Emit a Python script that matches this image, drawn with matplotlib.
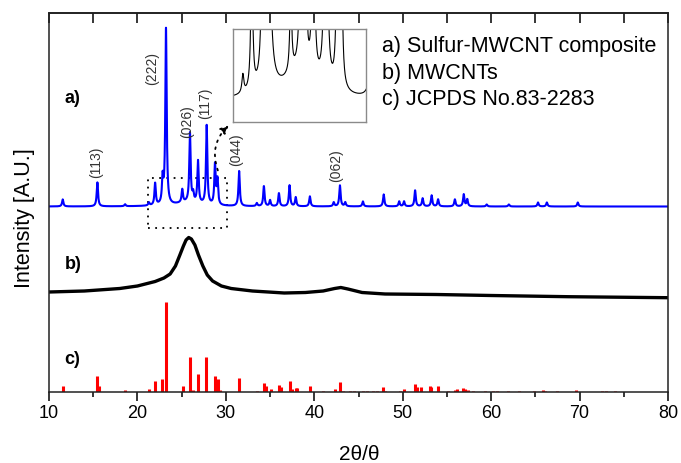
import matplotlib
matplotlib.use("Agg")
import matplotlib.pyplot as plt
import numpy as np
from matplotlib.patches import Rectangle
from matplotlib.ticker import MultipleLocator

plt.rcParams['font.family'] = ['Liberation Sans', 'DejaVu Sans']

# a) Sulfur-MWCNT composite: peak positions (2theta) and heights above baseline (A.U.)
blue_base = 185.5
blue_pos = [11.55, 15.47, 18.6, 21.3, 22.0, 22.85, 23.23, 25.07, 25.94, 26.3,
            26.85, 27.83, 28.77, 29.05, 31.5, 33.5, 34.3, 35.0, 36.0, 37.2,
            37.9, 39.5, 42.2, 42.9, 43.5, 45.5, 47.85, 49.6, 50.15, 51.4,
            52.25, 53.27, 54.0, 55.9, 56.9, 57.3, 59.5, 62.0, 65.3, 66.3, 69.8]
blue_height = [7, 24, 2, 3, 22, 25, 176, 13, 69, 8,
               42, 79, 40, 25, 35, 3, 20, 6, 13, 21,
               9, 10, 4, 21, 4, 5, 12, 5, 5, 16,
               8, 11, 7, 7, 12, 7, 2, 2, 4, 4, 4]
# broad carbon hump under the composite pattern
hump_pos = [25.8]
hump_height = [4]

# b) MWCNTs: trace
black_x = [10, 14, 18, 20, 22, 23, 23.7, 24.3, 24.8, 25.2, 25.5, 25.8, 26.1,
           26.5, 26.9, 27.4, 27.9, 28.5, 29.5, 30.6, 33, 36.6, 39, 41, 42.3,
           43.0, 43.8, 45.4, 48, 53.8, 60, 68.7, 80]
black_y = [100, 101, 103.5, 106, 110.5, 114, 118, 126, 137, 146, 152, 154.5, 153,
           147, 137, 126, 117, 111, 106, 103.5, 101, 99, 99.5, 101, 103.5,
           104.5, 103, 99.5, 98, 97.5, 96.5, 95.3, 94.3]

# c) JCPDS No.83-2283 reference lines
red_pos = [11.55, 15.45, 15.7, 18.6, 21.3, 22.0, 22.8, 23.2, 25.1, 25.9,
           26.3, 26.85, 27.8, 28.8, 29.07, 29.3, 31.5, 33.5, 34.3, 34.5,
           35.07, 36.0, 36.2, 37.2, 37.5, 37.9, 38.1, 39.5, 41.0, 42.3,
           42.9, 43.2, 44.0, 44.5, 45.5, 46.0, 46.6, 47.1, 47.8, 48.0,
           49.7, 50.15, 51.35, 51.6, 52.1, 53.1, 53.25, 54.0, 55.1, 55.9,
           56.1, 56.85, 57.1, 57.4, 57.9, 59.3, 60.2, 60.7, 61.9, 63.1,
           64.8, 65.85, 66.1, 67.4, 69.6, 72.5, 73.0, 74.0]
red_height = [6, 16, 6, 2, 3, 11, 13, 90, 6, 35,
              2, 18, 35, 16, 13, 2, 14, 1, 9, 6,
              3, 7, 5, 11, 3, 4, 4, 6, 1, 3,
              10, 1, 1, 1, 1, 1.5, 1.5, 1, 5, 1.5,
              1, 3, 8.5, 5.5, 5.5, 6, 5, 6, 1, 2.5,
              3, 4, 3.5, 2.5, 1, 1, 1, 1, 1, 1,
              1.5, 2, 1, 1, 2, 0.7, 0.7, 0.7]

hkl_labels = ['(113)', '(222)', '(026)', '(117)', '(044)', '(062)']
hkl_x = [15.31, 21.65, 25.66, 27.70, 31.15, 42.51]
hkl_y = [229.5, 323.5, 270, 288.5, 242, 226]

legend_lines = ['a) Sulfur-MWCNT composite', 'b) MWCNTs', 'c) JCPDS No.83-2283']

# build composite pattern from the peak list
x = np.linspace(10, 80, 7001)
hw = 0.09
blue = np.full_like(x, blue_base)
for p, h in zip(blue_pos, blue_height):
    blue += h / (1 + ((x - p) / hw) ** 2)
for p, h in zip(hump_pos, hump_height):
    blue += h / (1 + ((x - p) / 1.6) ** 2)

fig = plt.figure(figsize=(6.81, 4.63), dpi=100)
ax = fig.add_axes([49 / 681, 1 - 392 / 463, 619 / 681, 379 / 463])

ax.plot(x, blue, color='#0000ff', lw=1.5)
ax.plot(black_x, black_y, color='black', lw=2.4)
ax.vlines(red_pos, 0, red_height, color='#ff0000', lw=2.2)

ax.set_xlim(10, 80)
ax.set_ylim(0, 379)
ax.set_yticks([])
ax.xaxis.set_major_locator(MultipleLocator(10))
ax.xaxis.set_minor_locator(MultipleLocator(5))
ax.tick_params(axis='x', which='major', direction='out', length=6.5, width=1.1,
               labelsize=13, pad=3)
ax.tick_params(axis='x', which='minor', direction='out', length=3.5, width=1.1)
for s in ax.spines.values():
    s.set_linewidth(1.1)
    s.set_color('#222222')

top = ax.secondary_xaxis('top')
top.xaxis.set_major_locator(MultipleLocator(10))
top.xaxis.set_minor_locator(MultipleLocator(5))
top.tick_params(which='both', direction='in', length=7, width=1.1, labeltop=False)
top.spines['top'].set_linewidth(1.1)

ax.text(0.5008, -0.166, '2θ/θ', transform=ax.transAxes, ha='center', va='center',
        fontsize=15)
ax.text(-0.04, 0.46, 'Intensity [A.U.]', transform=ax.transAxes, rotation=90,
        ha='center', va='center', fontsize=15.5)

for lab, y in zip(['a)', 'b)', 'c)'], [293.5, 127.5, 32.5]):
    ax.text(11.75, y, lab, fontsize=13, fontweight='bold', ha='left', va='center')

for lab, xx, yy in zip(hkl_labels, hkl_x, hkl_y):
    ax.text(xx, yy, lab, rotation=90, ha='center', va='center', fontsize=10,
            color='#333333')

for i, line in enumerate(legend_lines):
    ax.text(47.62, 340 - 26.5 * i, line, fontsize=15.5, va='baseline', ha='left')

# dotted zoom box and arrow to the inset
ax.add_patch(Rectangle((21.2, 164), 8.95, 50, fill=False, ls=(0, (1, 3)),
                       lw=1.3, color='black'))
ax.annotate('', xy=(30.55, 268.5), xytext=(29.2, 219),
            arrowprops=dict(arrowstyle='-|>', ls=(0, (1, 3)), lw=1.3, color='black',
                            connectionstyle='arc3,rad=-0.35', mutation_scale=12))

ins = ax.inset_axes([0.2968, 0.7132, 0.2154, 0.2438])
ins.plot(x, blue, color='black', lw=0.8)
ins.set_xlim(20.5, 31.0)
ins.set_ylim(182.0, 197.0)
ins.set_xticks([])
ins.set_yticks([])
for s in ins.spines.values():
    s.set_color('#8a8a8a')
    s.set_linewidth(1.0)

fig.savefig('out.png', dpi=100)
